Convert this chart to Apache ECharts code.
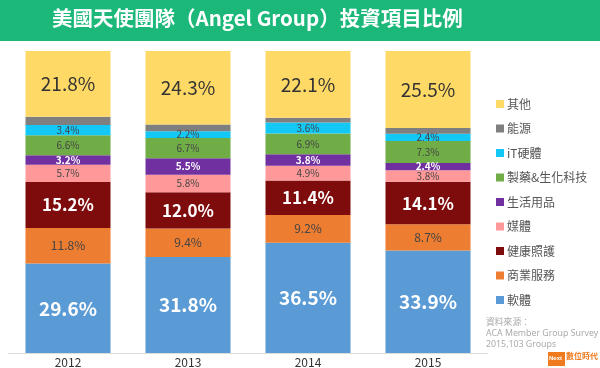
<!DOCTYPE html>
<html><head><meta charset="utf-8">
<script src="https://cdn.jsdelivr.net/npm/echarts@6/dist/echarts.min.js"></script>
<style>html,body{margin:0;padding:0;background:#fff}#c{width:600px;height:368px}</style>
</head><body><div id="c"></div>
<script>
const years = ['2012','2013','2014','2015'];
const seriesNames = ['軟體','商業服務','健康照護','媒體','生活用品','製藥&生化科技','iT硬體','能源','其他'];
const software   = [29.6, 31.8, 36.5, 33.9];
const business   = [11.8, 9.4, 9.2, 8.7];
const healthcare = [15.2, 12.0, 11.4, 14.1];
const media      = [5.7, 5.8, 4.9, 3.8];
const lifestyle  = [3.2, 5.5, 3.8, 2.4];
const pharma     = [6.6, 6.7, 6.9, 7.3];
const itHardware = [3.4, 2.2, 3.6, 2.4];
const energy     = [2.7, 2.3, 1.6, 1.9];
const other      = [21.8, 24.3, 22.1, 25.5];
const legendOrder = ['其他','能源','iT硬體','製藥&生化科技','生活用品','媒體','健康照護','商業服務','軟體'];

const FONT = '"Noto Sans CJK TC","Noto Sans",sans-serif';
const values = [software, business, healthcare, media, lifestyle, pharma, itHardware, energy, other];
const colors = ['#5B9BD5','#ED7D31','#7F0C0C','#FF9999','#7030A0','#70AD47','#13C8F5','#7F7F7F','#FFD966'];
const labels = [
  {show:true,color:'#fff',fontSize:19,fontWeight:'bold'},
  {show:true,color:'#444',fontSize:12},
  {show:true,color:'#fff',fontSize:17,fontWeight:'bold'},
  {show:true,color:'#444',fontSize:10},
  {show:true,color:'#fff',fontSize:10,fontWeight:'bold'},
  {show:true,color:'#444',fontSize:10},
  {show:true,color:'#444',fontSize:10},
  {show:false},
  {show:true,color:'#333',fontSize:19}
];
const series = seriesNames.map((n,i)=>({
  name:n, type:'bar', stack:'a', barWidth:85,
  itemStyle:{color:colors[i]},
  label:Object.assign({position:'inside',fontFamily:FONT,formatter:p=>p.value.toFixed(1)+'%'},labels[i]),
  emphasis:{disabled:true},
  data:values[i]
}));

const chart = echarts.init(document.getElementById('c'));
chart.setOption({
  animation:false,
  grid:{left:8,right:112,top:51,bottom:14},
  xAxis:{type:'category',data:years,
    axisLine:{lineStyle:{color:'#dcdcdc'}},axisTick:{show:false},
    axisLabel:{color:'#333',fontSize:12,fontFamily:FONT,margin:3}},
  yAxis:{type:'value',min:0,max:100,show:false,splitLine:{show:false}},
  legend:{data:legendOrder,orient:'vertical',left:491,top:92,icon:'rect',
    itemWidth:8,itemHeight:8,itemGap:10.5,
    textStyle:{color:'#555',fontSize:12,fontFamily:FONT,lineHeight:14,padding:[0,0,0,-2]}},
  series:series,
  graphic:[
    {type:'rect',left:0,top:0,shape:{width:600,height:41},style:{fill:'#1BB87A'},z:10},
    {type:'text',left:52,top:8,z:11,style:{text:'美國天使團隊（Angel Group）投資項目比例',fill:'#fff',
      font:'bold 20.5px "Noto Sans CJK TC",sans-serif'}},
    {type:'text',left:486,top:317,z:11,style:{text:'資料來源：\nACA Member Group Survey\n2015,103 Groups',
      fill:'#aaa',font:'8.8px "Noto Sans","Noto Sans CJK TC",sans-serif',lineHeight:11}},
    {type:'rect',left:548,top:352,shape:{width:17,height:14},style:{fill:'#F07A1E'},z:11},
    {type:'text',left:549,top:355,z:12,style:{text:'Next',fill:'#fff',font:'bold 6px sans-serif'}},
    {type:'text',left:566,top:352,z:11,style:{text:'數位時代',fill:'#F07A1E',font:'bold 8px "Noto Sans CJK TC",sans-serif'}}
  ]
});
</script></body></html>
